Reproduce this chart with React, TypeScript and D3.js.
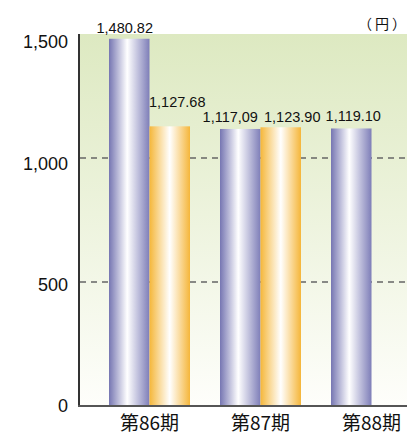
import React from "react";
import * as d3 from "d3";

const categories = ["第86期", "第87期", "第88期"];
const seriesA = [1480.82, 1117.09, 1119.1];
const seriesB: (number | null)[] = [1127.68, 1123.9, null];
const labelsA = ["1,480.82", "1,117,09", "1,119.10"];
const labelsB = ["1,127.68", "1,123.90", ""];
const yTicks = [0, 500, 1000, 1500];
const gridTicks = [500, 1000];
const unitLabel = "（円）";

const W = 411;
const H = 436;

export default function App() {
  const left = 79;
  const right = 407;
  const top = 34;
  const bottom = 406;
  const y = d3.scaleLinear().domain([0, 1500]).range([bottom, top]);
  const yLab = d3.scaleLinear().domain([0, 1500]).range([bottom, 42]);
  const x = d3.scaleBand<string>().domain(categories).range([94, 427]).paddingInner(0).paddingOuter(0);
  const barW = 40.5;
  const fmt = d3.format(",");
  const font = "'Liberation Sans', Arial, sans-serif";
  const cjk = "'Noto Sans CJK JP', sans-serif";
  const offA = [[-4.5, -6], [-10, -7], [2, -7]];
  const offB = [[7.5, -19.5], [11.5, -5.5], [0, 0]];

  return (
    <svg width={W} height={H} style={{ position: "absolute", left: 0, top: 0 }}>
      <defs>
        <linearGradient id="bg" x1="0" y1="0" x2="0" y2="1">
          <stop offset="0" stopColor="#dde9c1" />
          <stop offset="1" stopColor="#fefefb" />
        </linearGradient>
        <linearGradient id="gA" x1="0" y1="0" x2="1" y2="0">
          <stop offset="0" stopColor="#7676b2" />
          <stop offset="0.45" stopColor="#ffffff" />
          <stop offset="1" stopColor="#7e7eb8" />
        </linearGradient>
        <linearGradient id="gB" x1="0" y1="0" x2="1" y2="0">
          <stop offset="0" stopColor="#f5b73a" />
          <stop offset="0.5" stopColor="#ffffff" />
          <stop offset="1" stopColor="#f5b63a" />
        </linearGradient>
      </defs>
      <rect x={left} y={top} width={right - left} height={bottom - top} fill="url(#bg)" />
      {gridTicks.map((t) => (
        <line key={t} x1={left + 1} x2={right - 2} y1={y(t)} y2={y(t)} stroke="#666" strokeWidth={1.6} strokeDasharray="6 5" />
      ))}
      {categories.map((c, i) => {
        const cx = (x(c) as number) + x.bandwidth() / 2;
        const a = seriesA[i];
        const b = seriesB[i];
        return (
          <g key={c}>
            <rect x={cx - barW} y={y(a)} width={barW} height={bottom - y(a)} fill="url(#gA)" />
            {b != null && <rect x={cx} y={y(b)} width={barW} height={bottom - y(b)} fill="url(#gB)" />}
          </g>
        );
      })}
      <line x1={left} x2={left} y1={top} y2={bottom} stroke="#333" strokeWidth={2} />
      <line x1={left - 1} x2={right} y1={bottom} y2={bottom} stroke="#555" strokeWidth={2} />
      {yTicks.map((t) => (
        <text key={t} x={68} y={yLab(t)} dy="0.35em" textAnchor="end" fontFamily={font} fontSize={18} fill="#111">
          {fmt(t)}
        </text>
      ))}
      {categories.map((c, i) => {
        const cx = (x(c) as number) + x.bandwidth() / 2;
        const a = seriesA[i];
        const b = seriesB[i];
        return (
          <g key={"l" + c}>
            <text x={cx - barW / 2 + offA[i][0]} y={y(a) + offA[i][1]} textAnchor="middle" fontFamily={font} fontSize={14.5} fill="#111">
              {labelsA[i]}
            </text>
            {b != null && (
              <text x={cx + barW / 2 + offB[i][0]} y={y(b) + offB[i][1]} textAnchor="middle" fontFamily={font} fontSize={14.5} fill="#111">
                {labelsB[i]}
              </text>
            )}
            <text x={cx} y={430} textAnchor="middle" fontFamily={cjk} fontSize={19} fill="#111">
              {c}
            </text>
          </g>
        );
      })}
      <text x={409} y={29} textAnchor="end" fontFamily={cjk} fontSize={14} letterSpacing={3} fill="#111">
        {unitLabel}
      </text>
    </svg>
  );
}
